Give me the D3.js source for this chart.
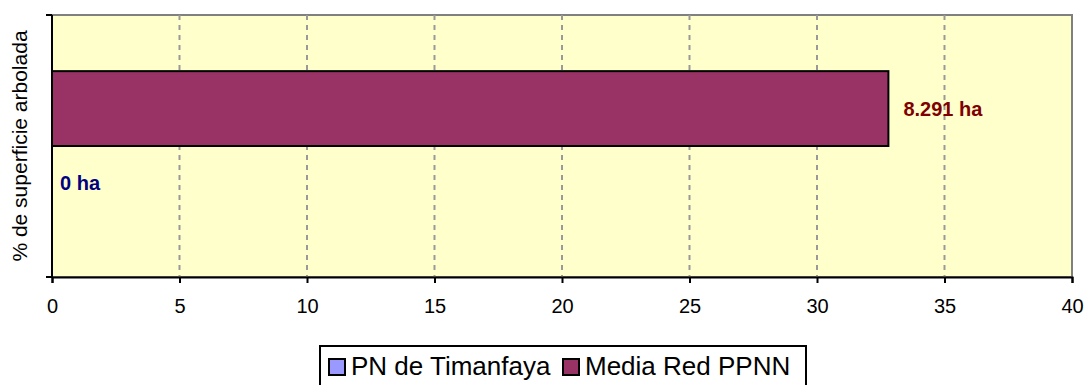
<!DOCTYPE html>
<html>
<head>
<meta charset="utf-8">
<script src="https://cdn.jsdelivr.net/npm/d3@7"></script>
<style>
  body { margin: 0; background: #fff; }
  text { font-family: Arial, "Liberation Sans", sans-serif; }
</style>
</head>
<body>
<script>
// data
const categories = ["% de superficie arbolada"];
const seriesNames = ["PN de Timanfaya", "Media Red PPNN"];
const seriesColors = ["#9999FF", "#993366"];
const seriesValues = [0, 32.8];
const seriesLabels = ["0 ha", "8.291 ha"];
const labelColors = ["#000080", "#800000"];
const xTicks = [0, 5, 10, 15, 20, 25, 30, 35, 40];

const w = 1085;
const h = 385;
const plot = { left: 52, top: 15, right: 1072, bottom: 277 };
const fontStack = "Arial, 'Liberation Sans', sans-serif";

const svg = d3.select("body").append("svg").attr("width", w).attr("height", h);

const x = d3.scaleLinear().domain([0, 40]).range([plot.left, plot.right]);

// one category, bars stacked bottom-up like excel
const yCat = d3.scaleBand().domain(categories).range([plot.bottom, plot.top]);
const ySeries = d3.scaleBand()
  .domain(d3.range(seriesNames.length))
  .range([yCat.bandwidth() * 0.2143, yCat.bandwidth() * 0.7857]);

// plot background
svg.append("rect")
  .attr("x", plot.left)
  .attr("y", plot.top)
  .attr("width", plot.right - plot.left)
  .attr("height", plot.bottom - plot.top)
  .attr("fill", "#FFFFCC")
  .attr("stroke", "#808080")
  .attr("stroke-width", 2);

// gridlines
svg.append("g")
  .selectAll("line")
  .data(xTicks.slice(1, -1))
  .join("line")
  .attr("x1", d => x(d))
  .attr("x2", d => x(d))
  .attr("y1", plot.top)
  .attr("y2", plot.bottom)
  .attr("stroke", "#999")
  .attr("stroke-width", 2)
  .attr("stroke-dasharray", "5,5");

// bars (series 0 at the bottom)
const barY = i => yCat(categories[0]) + yCat.bandwidth() - ySeries(i) - ySeries.bandwidth();
svg.append("g")
  .selectAll("rect")
  .data(seriesValues)
  .join("rect")
  .attr("x", x(0))
  .attr("y", (d, i) => barY(i))
  .attr("width", d => x(d) - x(0))
  .attr("height", ySeries.bandwidth())
  .attr("fill", (d, i) => seriesColors[i])
  .attr("stroke", "black")
  .attr("stroke-width", 2);

// value labels
svg.append("g")
  .selectAll("text")
  .data(seriesValues)
  .join("text")
  .attr("x", d => x(d) + (d > 0 ? 15 : 8))
  .attr("y", (d, i) => barY(i) + ySeries.bandwidth() / 2)
  .attr("dy", "0.35em")
  .attr("fill", (d, i) => labelColors[i])
  .style("font-size", "20px")
  .style("font-weight", "bold")
  .text((d, i) => seriesLabels[i]);

// x axis
const xAxis = svg.append("g")
  .attr("transform", `translate(0,${plot.bottom})`)
  .call(d3.axisBottom(x).tickValues(xTicks).tickSize(6).tickPadding(16));
xAxis.select(".domain").attr("stroke", "black").attr("stroke-width", 2);
xAxis.selectAll(".tick line").attr("stroke", "black").attr("stroke-width", 2);
xAxis.selectAll(".tick text")
  .attr("fill", "black")
  .style("font-size", "20px")
  .style("font-family", fontStack);

// y axis (left line with end ticks)
svg.append("line")
  .attr("x1", plot.left).attr("x2", plot.left)
  .attr("y1", plot.top).attr("y2", plot.bottom)
  .attr("stroke", "black").attr("stroke-width", 2);
svg.append("g")
  .selectAll("line")
  .data([plot.top, plot.bottom])
  .join("line")
  .attr("x1", plot.left - 6)
  .attr("x2", plot.left)
  .attr("y1", d => d)
  .attr("y2", d => d)
  .attr("stroke", "black")
  .attr("stroke-width", 2);

// y axis title
svg.append("text")
  .attr("transform", `translate(27,${(plot.top + plot.bottom) / 2}) rotate(-90)`)
  .attr("text-anchor", "middle")
  .attr("fill", "black")
  .style("font-size", "21px")
  .text(categories[0]);

// legend
const legend = svg.append("g").attr("transform", "translate(320,346)");
legend.append("rect")
  .attr("x", 0).attr("y", 0)
  .attr("width", 486).attr("height", 45)
  .attr("fill", "white")
  .attr("stroke", "black")
  .attr("stroke-width", 2);
const legendX = [9, 243];
seriesNames.forEach((name, i) => {
  legend.append("rect")
    .attr("x", legendX[i])
    .attr("y", 13)
    .attr("width", 16)
    .attr("height", 16)
    .attr("fill", seriesColors[i])
    .attr("stroke", "black")
    .attr("stroke-width", 2);
  legend.append("text")
    .attr("x", legendX[i] + 22)
    .attr("y", 29)
    .attr("fill", "black")
    .style("font-size", "26px")
    .text(name);
});
</script>
</body>
</html>
